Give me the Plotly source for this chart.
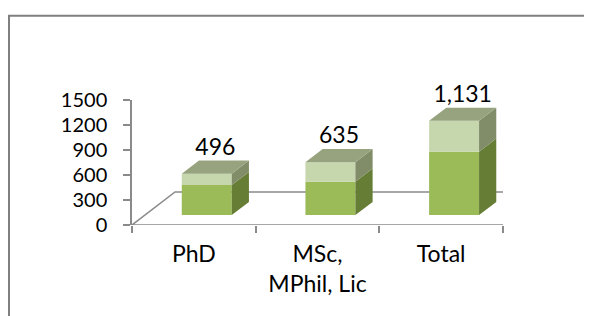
import plotly.graph_objects as go

# ---- data ----
categories = ["PhD", "MSc,<br>MPhil, Lic", "Total"]
lower_vals = [360, 400, 760]
upper_vals = [136, 235, 371]
total_vals = [496, 635, 1131]
y_ticks = [0, 300, 600, 900, 1200, 1500]

# ---- 3D look constants (styling) ----
DX, DY = 0.348, 396      # floor depth offset in axis units
D0, D1 = 0.3, 0.7        # bar front / back depth fraction
W = 0.404                # bar width
FONT = "Lato"
FS = 23
FS_Y = 20
AXIS_COL = "#8a8a8a"

C_FRONT_LO = "#9BBB59"
C_FRONT_HI = "#C6D7AE"
C_SIDE_LO = "#667D36"
C_SIDE_HI = "#818C69"
C_TOP = "#97A37F"

pos = [i + 0.5 for i in range(len(categories))]
n = len(categories)

fig = go.Figure()

# front faces as bars
seg_specs = [
    (lower_vals, [0] * n, C_FRONT_LO, C_SIDE_LO),
    (upper_vals, lower_vals, C_FRONT_HI, C_SIDE_HI),
]
for vals, bases, cf, cs in seg_specs:
    fig.add_trace(go.Bar(
        x=[p + D0 * DX for p in pos], y=vals,
        base=[b + D0 * DY for b in bases], width=W,
        marker=dict(color=cf, line=dict(width=0)),
        showlegend=False, hoverinfo="skip"))

# side faces
for vals, bases, cf, cs in seg_specs:
    xs, ys = [], []
    for p, v, b in zip(pos, vals, bases):
        xr = p + W / 2
        v0, v1 = b, b + v
        xs += [xr + D0 * DX, xr + D1 * DX, xr + D1 * DX, xr + D0 * DX, xr + D0 * DX, None]
        ys += [v0 + D0 * DY, v0 + D1 * DY, v1 + D1 * DY, v1 + D0 * DY, v0 + D0 * DY, None]
    fig.add_trace(go.Scatter(x=xs, y=ys, mode="lines", fill="toself",
                             fillcolor=cs, line=dict(width=0, color=cs),
                             showlegend=False, hoverinfo="skip", cliponaxis=False))

# top faces
xs, ys = [], []
for p, t in zip(pos, total_vals):
    xl, xr = p - W / 2, p + W / 2
    xs += [xl + D0 * DX, xr + D0 * DX, xr + D1 * DX, xl + D1 * DX, xl + D0 * DX, None]
    ys += [t + D0 * DY, t + D0 * DY, t + D1 * DY, t + D1 * DY, t + D0 * DY, None]
fig.add_trace(go.Scatter(x=xs, y=ys, mode="lines", fill="toself",
                         fillcolor=C_TOP, line=dict(width=0, color=C_TOP),
                         showlegend=False, hoverinfo="skip", cliponaxis=False))

# data labels
fig.add_trace(go.Scatter(
    x=[p + 0.5 * DX for p in pos], y=[t + D1 * DY for t in total_vals],
    mode="text", text=[f"{t:,}" for t in total_vals], textposition="top center",
    textfont=dict(family=FONT, size=FS, color="#000"),
    showlegend=False, hoverinfo="skip", cliponaxis=False))

# floor of the 3D plot
fig.add_shape(type="path", xref="x", yref="y", layer="below",
              path=f"M 0,0 L 3,0 L {3 + DX},{DY} L {DX},{DY} Z",
              fillcolor="white", line=dict(color=AXIS_COL, width=1.5))

# outer chart frame (top and left visible)
fig.add_shape(type="rect", xref="paper", yref="paper",
              x0=-0.3315, x1=1.35, y0=-0.9, y1=1.675,
              line=dict(color="#7f7f7f", width=2), fillcolor="rgba(0,0,0,0)")

fig.update_layout(
    width=584, height=308,
    margin=dict(l=124, r=89, t=92, b=91),
    paper_bgcolor="white", plot_bgcolor="rgba(0,0,0,0)",
    barmode="overlay", showlegend=False,
    font=dict(family=FONT, size=FS, color="#000"),
)
fig.update_xaxes(
    range=[0, 3], tickmode="array", tickvals=pos, ticktext=categories,
    ticks="", showgrid=False, zeroline=False, showline=False,
    ticklabelstandoff=13,
    minor=dict(tickmode="array", tickvals=[0, 1, 2, 3], ticks="outside",
               ticklen=7, tickwidth=1.5, tickcolor=AXIS_COL, showgrid=False),
    tickfont=dict(family=FONT, size=FS, color="#000"),
)
fig.update_yaxes(
    range=[0, 1500], tickmode="array", tickvals=y_ticks,
    ticks="outside", ticklen=7, tickwidth=1.5, tickcolor=AXIS_COL,
    showline=True, linecolor=AXIS_COL, linewidth=1.5,
    showgrid=False, zeroline=False, ticklabelstandoff=12,
    tickfont=dict(family=FONT, size=FS_Y, color="#000"),
)

fig.write_html("out.html")
